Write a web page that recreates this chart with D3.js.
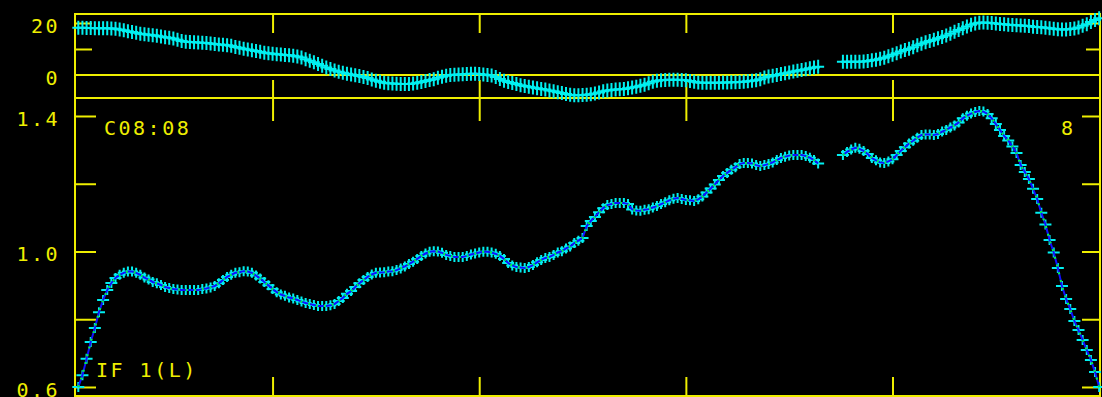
<!DOCTYPE html>
<html>
<head>
<meta charset="utf-8">
<script src="https://cdn.jsdelivr.net/npm/d3@7/dist/d3.min.js"></script>
<style>
	html, body { margin: 0; padding: 0; background: #000; overflow: hidden; }
	svg { display: block; }
	.lbl { font-family: 'DejaVu Sans Mono', monospace; font-size: 20px; letter-spacing: 2.5px; fill: #eeee00; }
</style>
</head>
<body>
<div id="chart"></div>
<script>
// channel of the first point, one value per channel after that
const firstChannel = 3

// amplitude, channels 3..250 (null = flagged)
const amplitude = [
	0.600, 0.635, 0.683, 0.733, 0.774, 0.821, 0.857, 0.886, 0.907, 0.922,
	0.931, 0.937, 0.941, 0.941, 0.937, 0.931, 0.923, 0.917, 0.910, 0.906,
	0.901, 0.895, 0.892, 0.889, 0.888, 0.886, 0.886, 0.886, 0.886, 0.886,
	0.889, 0.891, 0.894, 0.898, 0.906, 0.916, 0.925, 0.931, 0.937, 0.939,
	0.942, 0.941, 0.937, 0.929, 0.920, 0.910, 0.900, 0.889, 0.880, 0.873,
	0.869, 0.864, 0.861, 0.857, 0.852, 0.848, 0.845, 0.842, 0.839, 0.839,
	0.839, 0.841, 0.845, 0.854, 0.863, 0.875, 0.883, 0.895, 0.906, 0.916,
	0.925, 0.932, 0.937, 0.938, 0.939, 0.941, 0.942, 0.945, 0.950, 0.956,
	0.963, 0.970, 0.978, 0.987, 0.994, 0.999, 1.001, 1.000, 0.996, 0.990,
	0.987, 0.984, 0.984, 0.984, 0.987, 0.991, 0.994, 0.997, 0.999, 0.999,
	0.997, 0.993, 0.987, 0.978, 0.966, 0.959, 0.954, 0.953, 0.951, 0.954,
	0.960, 0.968, 0.975, 0.981, 0.984, 0.990, 0.997, 1.001, 1.009, 1.015,
	1.025, 1.032, 1.040, 1.075, 1.090, 1.102, 1.116, 1.128, 1.137, 1.140,
	1.143, 1.143, 1.143, 1.140, 1.124, 1.121, 1.120, 1.123, 1.125, 1.130,
	1.134, 1.140, 1.145, 1.151, 1.156, 1.158, 1.155, 1.152, 1.151, 1.149,
	1.154, 1.162, 1.174, 1.186, 1.198, 1.211, 1.223, 1.232, 1.241, 1.249,
	1.258, 1.261, 1.261, 1.260, 1.255, 1.252, 1.255, 1.258, 1.263, 1.270,
	1.276, 1.280, 1.283, 1.285, 1.285, 1.285, 1.282, 1.277, 1.270, 1.260,
	null, null, null, null, null, 1.285, 1.294, 1.301, 1.306, 1.303,
	1.297, 1.288, 1.276, 1.269, 1.263, 1.261, 1.266, 1.272, 1.285, 1.297,
	1.308, 1.319, 1.327, 1.336, 1.344, 1.345, 1.345, 1.344, 1.347, 1.354,
	1.359, 1.366, 1.372, 1.381, 1.393, 1.401, 1.407, 1.412, 1.415, 1.413,
	1.406, 1.393, 1.376, 1.359, 1.341, 1.328, 1.310, 1.291, 1.255, 1.235,
	1.214, 1.185, 1.155, 1.114, 1.080, 1.034, 0.997, 0.951, 0.898, 0.860,
	0.830, 0.795, 0.768, 0.739, 0.709, 0.680, 0.644, 0.600
]

// phase in degrees, same channels
const phase = [
	18.2, 18.2, 18.1, 18.1, 18.0, 18.0, 18.0, 18.0, 17.9, 17.8,
	17.5, 17.2, 16.8, 16.5, 16.2, 15.9, 15.7, 15.5, 15.3, 15.1,
	14.8, 14.5, 14.3, 14.0, 13.6, 13.1, 12.8, 12.7, 12.6, 12.5,
	12.4, 12.3, 12.1, 11.9, 11.7, 11.6, 11.4, 11.2, 10.8, 10.5,
	10.1, 9.8, 9.5, 9.2, 8.9, 8.6, 8.4, 8.2, 8.0, 7.9,
	7.7, 7.6, 7.4, 7.1, 6.7, 6.1, 5.5, 4.9, 4.2, 3.6,
	2.9, 2.3, 1.7, 1.2, 0.9, 0.5, 0.2, -0.1, -0.4, -0.8,
	-1.2, -1.7, -2.2, -2.6, -3.0, -3.2, -3.3, -3.4, -3.5, -3.5,
	-3.5, -3.3, -3.0, -2.7, -2.3, -1.9, -1.6, -1.1, -0.7, -0.3,
	0.0, 0.1, 0.2, 0.3, 0.4, 0.5, 0.5, 0.4, 0.2, 0.0,
	-0.2, -0.8, -1.5, -2.2, -2.7, -3.1, -3.5, -3.9, -4.2, -4.5,
	-4.8, -5.1, -5.4, -5.6, -6.0, -6.3, -6.6, -6.9, -7.3, -7.6,
	-7.8, -7.8, -7.7, -7.6, -7.4, -7.1, -6.7, -6.3, -6.0, -5.8,
	-5.6, -5.5, -5.4, -5.1, -4.8, -4.5, -4.1, -3.8, -3.2, -2.6,
	-2.2, -2.0, -1.9, -1.8, -1.8, -1.8, -1.9, -2.0, -2.3, -2.6,
	-2.9, -3.0, -3.0, -3.0, -3.0, -3.0, -2.9, -2.9, -2.8, -2.8,
	-2.7, -2.6, -2.4, -2.2, -2.0, -1.6, -1.0, -0.6, -0.3, 0.0,
	0.4, 0.7, 1.0, 1.3, 1.6, 1.9, 2.2, 2.6, 2.9, 3.2,
	null, null, null, null, null, 5.1, 5.1, 5.1, 5.1, 5.1,
	5.2, 5.4, 5.7, 5.9, 6.2, 6.6, 7.2, 7.8, 8.4, 9.0,
	9.6, 10.1, 10.7, 11.4, 12.0, 12.6, 13.1, 13.6, 14.1, 14.6,
	15.2, 15.9, 16.6, 17.3, 18.0, 18.7, 19.3, 19.8, 20.1, 20.2,
	20.1, 20.0, 19.8, 19.6, 19.5, 19.3, 19.2, 19.1, 19.0, 18.9,
	18.8, 18.6, 18.5, 18.4, 18.2, 18.0, 17.8, 17.6, 17.5, 17.5,
	17.7, 17.9, 18.3, 18.9, 19.5, 20.4, 21.2, 21.8
]

const channelTicks = [50, 100, 150, 200]
const phaseTicks = [10, 20]
const phaseLabels = [20, 0]
const ampTicks = [0.6, 0.8, 1.0, 1.2, 1.4]
const ampLabels = [1.4, 1.0, 0.6]

const baselineLabel = 'C08:08'
const ifLabel = 'IF 1(L)'
const antennaLabel = '8'

const width = 1102, height = 397
const yellow = '#eeee00', cyan = '#00f0f0'

// panel frames
const left = 75, right = 1100
const phTop = 14, split = 98, ampBottom = 396

const x = d3.scaleLinear().domain([2.2, 250.2]).range([left, right])
const yPh = d3.scaleLinear().domain([-8.85, 23.46]).range([split, phTop])
const yAmp = d3.scaleLinear().domain([0.5734, 1.4531]).range([ampBottom, split])

const svg = d3.select('#chart').append('svg')
	.attr('width', width)
	.attr('height', height)

svg.append('rect').attr('width', width).attr('height', height).attr('fill', '#000')

const frame = svg.append('g').attr('fill', 'none').attr('stroke', yellow).attr('stroke-width', 2)

frame.append('rect').attr('x', left).attr('y', phTop).attr('width', right - left).attr('height', split - phTop)
frame.append('rect').attr('x', left).attr('y', split).attr('width', right - left).attr('height', ampBottom - split)
// zero phase line
frame.append('line')
	.attr('x1', left).attr('x2', right)
	.attr('y1', yPh(0)).attr('y2', yPh(0))

// inward ticks, drawn with d3 axes (no domain, no labels)
const addAxis = (axis, tx, ty) => {
	const g = svg.append('g')
		.attr('transform', `translate(${tx},${ty})`)
		.call(axis.tickFormat(''))
	g.select('.domain').remove()
	g.selectAll('line').attr('stroke', yellow).attr('stroke-width', 2)
	return g
}

addAxis(d3.axisBottom(x).tickValues(channelTicks).tickSize(19), 0, phTop)
addAxis(d3.axisTop(x).tickValues(channelTicks).tickSize(18), 0, split)
addAxis(d3.axisBottom(x).tickValues(channelTicks).tickSize(23), 0, split)
addAxis(d3.axisTop(x).tickValues(channelTicks).tickSize(19), 0, ampBottom)

addAxis(d3.axisRight(yPh).tickValues(phaseTicks).tickSize(17), left, 0)
addAxis(d3.axisLeft(yPh).tickValues(phaseTicks).tickSize(14), right, 0)
addAxis(d3.axisRight(yAmp).tickValues(ampTicks).tickSize(21), left, 0)
addAxis(d3.axisLeft(yAmp).tickValues(ampTicks).tickSize(18), right, 0)

// y labels
svg.selectAll('.phLbl')
	.data(phaseLabels)
	.enter().append('text')
	.attr('class', 'lbl')
	.attr('text-anchor', 'end')
	.attr('x', 60)
	.attr('y', d => yPh(d) + 10)
	.text(d => d)

svg.selectAll('.ampLbl')
	.data(ampLabels)
	.enter().append('text')
	.attr('class', 'lbl')
	.attr('text-anchor', 'end')
	.attr('x', 60)
	.attr('y', d => yAmp(d) + 10)
	.text(d => d3.format('.1f')(d))

// data as {c, v}
const toPoints = arr => arr.map((v, i) => ({ c: firstChannel + i, v: v }))
const phPts = toPoints(phase)
const ampPts = toPoints(amplitude)

const crossPath = (px, py, hw, hh) =>
	`M${px - hw},${py}H${px + hw}M${px},${py - hh}V${py + hh}`

//#region phase panel
const phLine = d3.line()
	.defined(d => d.v != null)
	.x(d => x(d.c))
	.y(d => yPh(d.v))

svg.append('path')
	.datum(phPts)
	.attr('d', phLine)
	.attr('fill', 'none')
	.attr('stroke', '#ff00ff')
	.attr('stroke-width', 2)
	.attr('stroke-dasharray', '2,3')

svg.append('g').selectAll('path')
	.data(phPts.filter(d => d.v != null))
	.enter().append('path')
	.attr('d', d => crossPath(x(d.c), yPh(d.v), 6, 7))
	.attr('stroke', cyan)
	.attr('stroke-width', 2)
//#endregion

//#region amplitude panel
svg.append('g').selectAll('path')
	.data(ampPts.filter(d => d.v != null))
	.enter().append('path')
	.attr('d', d => crossPath(x(d.c), yAmp(d.v), 6, 5))
	.attr('stroke', cyan)
	.attr('stroke-width', 2)

const ampLine = d3.line()
	.defined(d => d.v != null)
	.x(d => x(d.c))
	.y(d => yAmp(d.v))

svg.append('path')
	.datum(ampPts)
	.attr('d', ampLine)
	.attr('fill', 'none')
	.attr('stroke', '#1010ff')
	.attr('stroke-width', 2)

svg.append('path')
	.datum(ampPts)
	.attr('d', ampLine)
	.attr('fill', 'none')
	.attr('stroke', '#00ff40')
	.attr('stroke-width', 2)
	.attr('stroke-dasharray', '2,6')
//#endregion

// panel annotations
svg.append('text').attr('class', 'lbl').attr('x', 104).attr('y', 135).text(baselineLabel)
svg.append('text').attr('class', 'lbl').attr('x', 96).attr('y', 377).text(ifLabel)
svg.append('text').attr('class', 'lbl').attr('x', 1061).attr('y', 135).text(antennaLabel)
</script>
</body>
</html>
